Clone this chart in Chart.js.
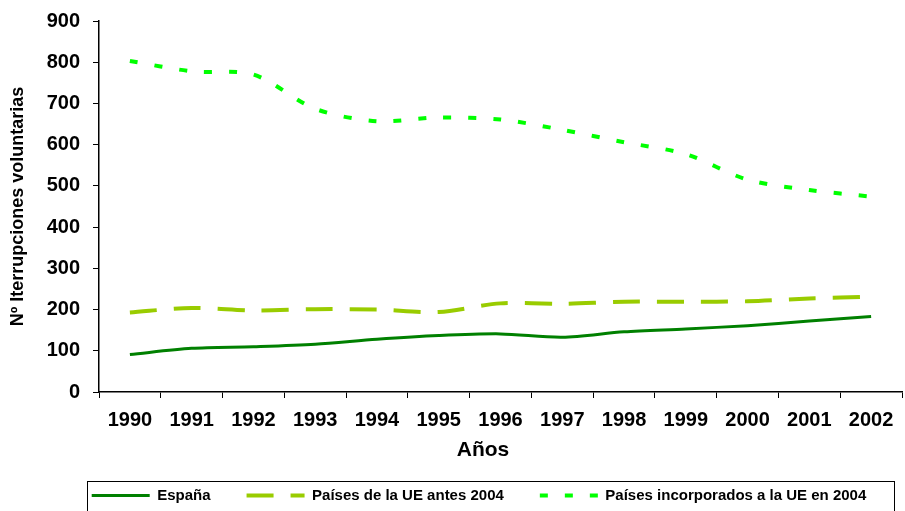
<!DOCTYPE html>
<html>
<head>
<meta charset="utf-8">
<script src="https://cdn.jsdelivr.net/npm/chart.js@4.4.1/dist/chart.umd.min.js"></script>
<style>
  html, body { margin: 0; padding: 0; background: #ffffff; }
  #wrap { width: 905px; height: 511px; position: relative; }
</style>
</head>
<body>
<div id="wrap"><canvas id="c" width="905" height="511"></canvas></div>
<script>
const years = ['1990','1991','1992','1993','1994','1995','1996','1997','1998','1999','2000','2001','2002'];
const espana = [91, 106, 110, 116, 128, 137, 141, 133, 146, 153, 161, 172, 183];
const ueAntes2004 = [193, 204, 198, 201, 200, 194, 215, 214, 219, 219, 220, 227, 231];
const incorporados2004 = [803, 778, 770, 687, 657, 666, 661, 636, 606, 577, 515, 490, 474];
const seriesNames = ['España', 'Países de la UE antes 2004', 'Países incorporados a la UE en 2004'];
const yTitle = 'Nº Iterrupciones voluntarias';
const xTitle = 'Años';

const FONT = "'Liberation Sans', Arial, sans-serif";
const LEGEND_PAD = 36;      // horizontal spacing between legend items
const LEGEND_HEIGHT = 33;   // height reserved for the legend strip
const LEGEND_TOP_GAP = 10;  // gap above legend text
const LEGEND_SHIFT_X = 28;  // legend is slightly right of centre

const legendTweak = {
  id: 'legendTweak',
  beforeUpdate(chart) {
    const lg = chart.legend;
    if (!lg || lg._tweaked) return;
    lg._tweaked = true;
    const origFit = lg.fit.bind(lg);
    lg.fit = function () {
      origFit();
      this.height = LEGEND_HEIGHT;
    };
    const origDraw = lg.draw.bind(lg);
    lg.draw = function () {
      const saved = { left: this.left, right: this.right, top: this.top };
      this.left += LEGEND_SHIFT_X;
      this.right += LEGEND_SHIFT_X;
      this.top -= (LEGEND_PAD - LEGEND_TOP_GAP);
      origDraw();
      this.left = saved.left;
      this.right = saved.right;
      this.top = saved.top;
    };
  },
  afterDraw(chart) {
    const lg = chart.legend;
    if (!lg || !lg.legendHitBoxes || !lg.legendHitBoxes.length) return;
    const hb = lg.legendHitBoxes;
    const left = hb[0].left - 5 + LEGEND_SHIFT_X;
    const last = hb[hb.length - 1];
    const right = last.left + last.width + 27 + LEGEND_SHIFT_X;
    const top = lg.top + 3;
    const ctx = chart.ctx;
    ctx.save();
    ctx.strokeStyle = '#000000';
    ctx.lineWidth = 1;
    ctx.setLineDash([]);
    ctx.strokeRect(Math.round(left) + 0.5, Math.round(top) + 0.5, Math.round(right - left), chart.height + 5 - top);
    ctx.restore();
  }
};

new Chart(document.getElementById('c'), {
  type: 'line',
  data: {
    labels: years,
    datasets: [
      {
        label: seriesNames[0],
        data: espana,
        borderColor: '#008000',
        backgroundColor: '#008000',
        borderWidth: 3,
        pointRadius: 0,
        tension: 0.3,
        fill: false
      },
      {
        label: seriesNames[1],
        data: ueAntes2004,
        borderColor: '#99CC00',
        backgroundColor: '#99CC00',
        borderWidth: 4,
        borderDash: [27, 17],
        pointRadius: 0,
        tension: 0.3,
        fill: false
      },
      {
        label: seriesNames[2],
        data: incorporados2004,
        borderColor: '#00FF00',
        backgroundColor: '#00FF00',
        borderWidth: 4,
        borderDash: [8, 17],
        pointRadius: 0,
        tension: 0.3,
        fill: false
      }
    ]
  },
  options: {
    responsive: false,
    animation: false,
    devicePixelRatio: 1,
    layout: { padding: { top: 21, right: 3, left: 0, bottom: 0 } },
    plugins: {
      tooltip: { enabled: false },
      legend: {
        position: 'bottom',
        labels: {
          usePointStyle: true,
          pointStyle: 'line',
          pointStyleWidth: 58,
          boxHeight: 15,
          padding: LEGEND_PAD,
          color: '#000000',
          font: { family: FONT, size: 15, weight: 'bold' },
          generateLabels(chart) {
            return chart.data.datasets.map((ds, i) => ({
              text: ds.label,
              datasetIndex: i,
              fillStyle: ds.borderColor,
              strokeStyle: ds.borderColor,
              fontColor: '#000000',
              lineWidth: ds.borderWidth,
              lineDash: ds.borderDash || [],
              lineDashOffset: 0,
              lineCap: 'butt',
              pointStyle: 'line',
              hidden: !chart.isDatasetVisible(i)
            }));
          }
        }
      }
    },
    scales: {
      x: {
        offset: true,
        afterFit(scale) { scale.height = 86; },
        grid: {
          display: true,
          offset: true,
          drawOnChartArea: false,
          drawTicks: true,
          tickLength: 6,
          color: '#000000'
        },
        border: { display: true, color: '#000000', width: 1.5 },
        ticks: {
          color: '#000000',
          padding: 10,
          maxRotation: 0,
          autoSkip: false,
          font: { family: FONT, size: 20, weight: 'bold' }
        },
        title: {
          display: true,
          text: xTitle + '      ',
          color: '#000000',
          padding: { top: 0, bottom: 15 },
          font: { family: FONT, size: 21, weight: 'bold' }
        }
      },
      y: {
        min: 0,
        max: 900,
        afterFit(scale) { scale.width = 99; scale.paddingTop = 0; },
        grid: {
          display: true,
          drawOnChartArea: false,
          drawTicks: true,
          tickLength: 6,
          color: '#000000'
        },
        border: { display: true, color: '#000000', width: 1.5 },
        ticks: {
          stepSize: 100,
          color: '#000000',
          padding: 13,
          font: { family: FONT, size: 20, weight: 'bold' }
        },
        title: {
          display: true,
          text: yTitle,
          color: '#000000',
          padding: { top: 7, bottom: 0 },
          font: { family: FONT, size: 18, weight: 'bold' }
        }
      }
    }
  },
  plugins: [legendTweak]
});
</script>
</body>
</html>
